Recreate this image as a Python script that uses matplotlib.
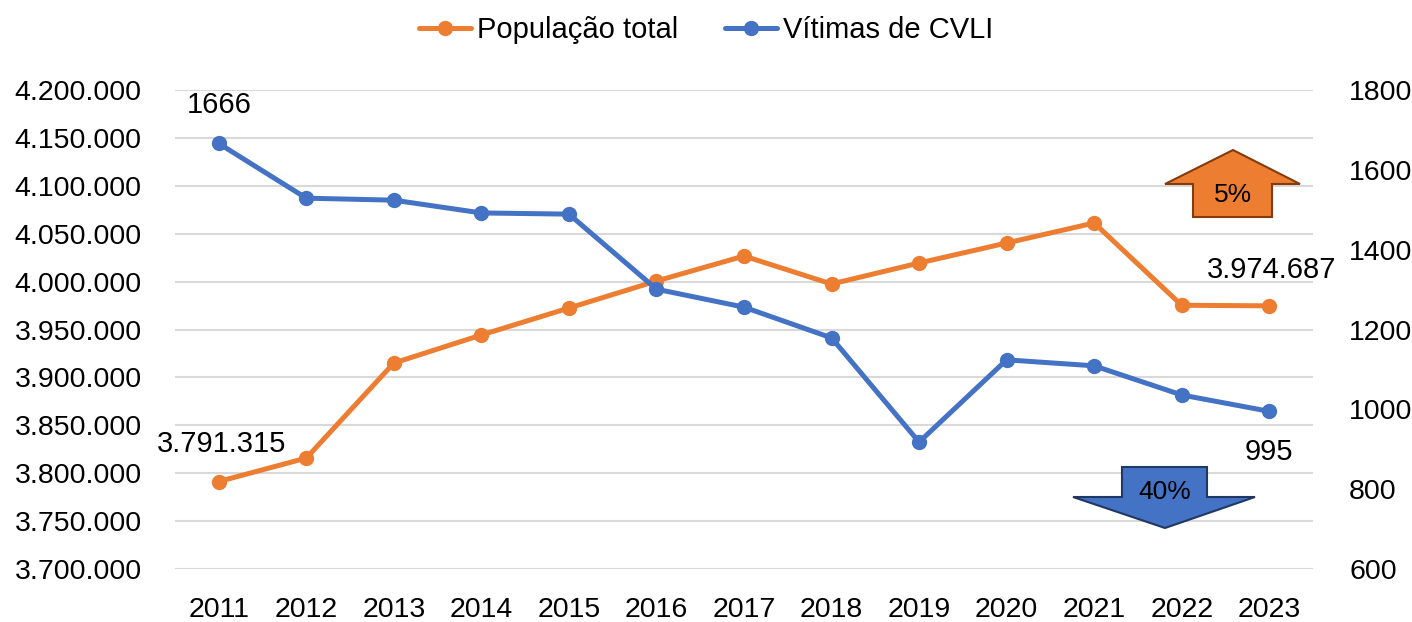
import matplotlib
matplotlib.use("Agg")
import matplotlib.pyplot as plt
from matplotlib.patches import Polygon
from matplotlib.ticker import FuncFormatter

years = [2011, 2012, 2013, 2014, 2015, 2016, 2017, 2018, 2019, 2020, 2021, 2022, 2023]
populacao = [3791315, 3815800, 3915000, 3944300, 3972400, 4000600, 4026700, 3997500,
             4019400, 4040300, 4061200, 3975300, 3974687]
vitimas = [1666, 1529, 1524, 1492, 1489, 1301, 1256, 1179, 918, 1124, 1109, 1036, 995]

left_ticks = [3700000, 3750000, 3800000, 3850000, 3900000, 3950000, 4000000,
              4050000, 4100000, 4150000, 4200000]
right_ticks = [600, 800, 1000, 1200, 1400, 1600, 1800]

ORANGE = "#ED7D31"
BLUE = "#4472C4"
GRID = "#D9D9D9"

plt.rcParams['font.family'] = ['Liberation Sans', 'DejaVu Sans']

W, H = 1412, 622
fig = plt.figure(figsize=(W / 100, H / 100), dpi=100)
ax = fig.add_axes([175 / W, 1 - 569 / H, (1313 - 175) / W, (569 - 90) / H])
ax2 = ax.twinx()

x = list(range(len(years)))
l1, = ax.plot(x, populacao, color=ORANGE, lw=3.6, marker='o', ms=10, label='População total',
              solid_capstyle='round', zorder=3)
l2, = ax2.plot(x, vitimas, color=BLUE, lw=3.6, marker='o', ms=10, label='Vítimas de CVLI',
               solid_capstyle='round', zorder=3)

ax.set_xlim(-0.5, len(years) - 0.5)
ax.set_ylim(left_ticks[0], left_ticks[-1])
ax2.set_ylim(right_ticks[0], right_ticks[-1])
ax.set_yticks(left_ticks)
ax2.set_yticks(right_ticks)
ax.yaxis.set_major_formatter(FuncFormatter(lambda v, p: f"{int(v):,}".replace(",", ".")))
ax.set_xticks(x)
ax.set_xticklabels([str(y) for y in years])
ax.grid(axis='y', color=GRID, lw=1.5, zorder=0)
ax.set_axisbelow(True)
for a in (ax, ax2):
    for s in a.spines.values():
        s.set_visible(False)
    a.tick_params(length=0, labelsize=20.5, colors='black')
ax.tick_params(axis='y', pad=24)
ax.tick_params(axis='x', pad=20)
ax2.tick_params(axis='y', pad=26)

# data labels
ax2.annotate(f"{vitimas[0]}", (x[0], vitimas[0]), xytext=(0, 28), textcoords='offset points',
             ha='center', va='center', fontsize=21)
ax2.annotate(f"{vitimas[-1]}", (x[-1], vitimas[-1]), xytext=(0, -29), textcoords='offset points',
             ha='center', va='center', fontsize=21)
ax.annotate(f"{populacao[0]:,}".replace(",", "."), (x[0], populacao[0]), xytext=(2, 27),
            textcoords='offset points', ha='center', va='center', fontsize=21)
ax.annotate(f"{populacao[-1]:,}".replace(",", "."), (x[-1], populacao[-1]), xytext=(2, 26),
            textcoords='offset points', ha='center', va='center', fontsize=21)

# legend
fig.legend(handles=[l1, l2], loc='center', bbox_to_anchor=(0.5, 1 - 30 / H), ncol=2,
           frameon=False, fontsize=21, handlelength=1.8, handletextpad=0.2, columnspacing=1.6)

# arrows (annotation shapes, figure pixel coords)
def fig_poly(pts, fc, ec):
    p = Polygon([(px / W, 1 - py / H) for px, py in pts], closed=True, transform=fig.transFigure,
                facecolor=fc, edgecolor=ec, lw=1.5, zorder=5)
    fig.patches.append(p)

fig_poly([(1233, 150), (1300, 184), (1272, 184), (1272, 217), (1193, 217), (1193, 184), (1165, 184)],
         ORANGE, "#843C0C")
fig.text(1233 / W, 1 - 195 / H, "5%", ha='center', va='center', fontsize=19, zorder=6)
fig_poly([(1122, 467), (1207, 467), (1207, 497), (1255, 497), (1165, 528), (1073, 497), (1122, 497)],
         BLUE, "#203864")
fig.text(1165 / W, 1 - 492 / H, "40%", ha='center', va='center', fontsize=19, zorder=6)

fig.savefig("out.png", dpi=100, facecolor='white')
